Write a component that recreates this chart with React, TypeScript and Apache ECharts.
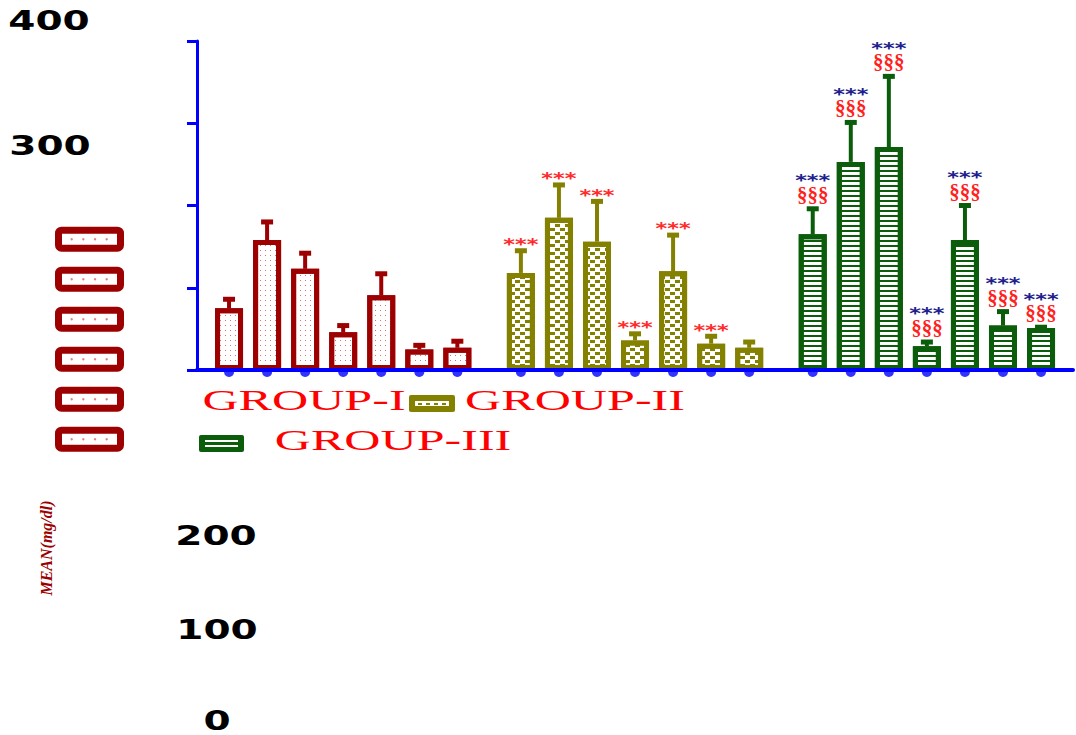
import React, { useEffect, useRef } from "react";
import * as echarts from "echarts";

// ---------- data ----------
const groupNames = ["GROUP-I", "GROUP-II", "GROUP-III"];
const groupIMean = [75, 158, 123, 46, 91, 25, 27];
const groupISD = [11, 22, 19, 8, 26, 5, 8];
const groupIIMean = [118, 185, 156, 36, 120, 32, 27];
const groupIISD = [27, 40, 49, 8, 44, 9, 7];
const groupIIIMean = [165, 253, 271, 29, 158, 54, 51];
const groupIIISD = [31, 48, 86, 5, 42, 17, 1];
const groupIStars = ["", "", "", "", "", "", ""];
const groupIIStars = ["***", "***", "***", "***", "***", "***", ""];
const groupIIIStars = ["***", "***", "***", "***", "***", "***", "***"];
const groupIIISections = ["§§§", "§§§", "§§§", "§§§", "§§§", "§§§", "§§§"];
const yTickLabels = ["400", "300", "200", "100", "0"];
const yTickValues = [400, 300, 200, 100, 0];
const yAxisTitle = "MEAN(mg/dl)";

// ---------- styles / layout ----------
const BLUE = "#0000ff";
const DARK_RED = "#9c0000";
const OLIVE = "#848000";
const GREEN = "#0b5c0b";
const GROUP_STRIDE = 7.67;

const groups = [
  {
    name: groupNames[0], mean: groupIMean, sd: groupISD, stars: groupIStars, sections: null as string[] | null,
    color: DARK_RED, starColor: "#ff2a2a",
    decal: { symbol: "rect", symbolSize: 1, rotation: 0, color: "#e07070", dashArrayX: [1, 4], dashArrayY: [1, 4] },
  },
  {
    name: groupNames[1], mean: groupIIMean, sd: groupIISD, stars: groupIIStars, sections: null as string[] | null,
    color: OLIVE, starColor: "#ff2a2a",
    decal: { symbol: "rect", symbolSize: 1, rotation: 0, color: OLIVE, dashArrayX: [[5, 5], [0, 5, 5, 0]], dashArrayY: [3, 1] },
  },
  {
    name: groupNames[2], mean: groupIIIMean, sd: groupIIISD, stars: groupIIIStars, sections: groupIIISections,
    color: GREEN, starColor: "#20208c",
    decal: { symbol: "rect", symbolSize: 1, rotation: 0, color: GREEN, dashArrayX: [1, 0], dashArrayY: [2, 3] },
  },
];

function buildOption() {
  const series: any[] = [];
  const dots: number[][] = [];
  groups.forEach((g, gi) => {
    const xs = g.mean.map((_, i) => gi * GROUP_STRIDE + i);
    xs.forEach((x) => dots.push([x, 0]));
    series.push({
      name: g.name,
      type: "bar",
      barWidth: 28,
      barGap: "-100%",
      silent: true,
      z: 2,
      itemStyle: { color: "#ffffff", borderColor: g.color, borderWidth: 5, decal: g.decal },
      data: xs.map((x, i) => [x, g.mean[i]]),
    });
    series.push({
      name: g.name + " error",
      type: "custom",
      silent: true,
      z: 3,
      data: xs.map((x, i) => [x, g.mean[i], g.mean[i] + g.sd[i]]),
      renderItem: (params: any, api: any) => {
        const i = params.dataIndex;
        const x = api.value(0);
        const p0 = api.coord([x, api.value(1)]);
        const p1 = api.coord([x, api.value(2)]);
        const children: any[] = [
          { type: "line", shape: { x1: p0[0], y1: p0[1], x2: p1[0], y2: p1[1] }, style: { stroke: g.color, lineWidth: 4 } },
          { type: "rect", shape: { x: p1[0] - 6, y: p1[1] - 2.5, width: 12, height: 5 }, style: { fill: g.color } },
        ];
        const star = g.stars[i];
        if (star) {
          const dy = g.sections ? 32 : 10;
          children.push({
            type: "text",
            x: p1[0],
            y: p1[1] - dy + 4,
            scaleX: 1.4,
            style: {
              text: star, fill: g.starColor, font: "bold 16px 'DejaVu Sans'",
              align: "center", verticalAlign: "middle", textAlign: "center", textVerticalAlign: "middle",
            },
          });
        }
        if (g.sections && g.sections[i]) {
          children.push({
            type: "text",
            x: p1[0],
            y: p1[1] - 14,
            style: {
              text: g.sections[i], fill: "#ff2020", font: "bold 21px 'Liberation Serif'",
              align: "center", verticalAlign: "middle", textAlign: "center", textVerticalAlign: "middle",
            },
          });
        }
        return { type: "group", children };
      },
    });
  });
  series.push({
    name: "baseline dots",
    type: "scatter",
    silent: true,
    z: 1,
    symbolSize: 10,
    symbolOffset: [0, 2],
    itemStyle: { color: BLUE, decal: "none" },
    data: dots,
  });

  const graphic: any[] = [];
  // y tick labels (displaced as in the reference)
  const tickPos: Record<number, [number, number]> = {
    400: [49, 21], 300: [50, 146], 200: [216, 536], 100: [217, 630], 0: [217, 721],
  };
  yTickValues.forEach((v, k) => {
    const [x, y] = tickPos[v];
    graphic.push({
      type: "text", x, y, scaleX: 1.5,
      style: {
        text: yTickLabels[k], fill: "#000", font: "bold 26px 'DejaVu Sans'", lineHeight: 20,
        textAlign: "center", textVerticalAlign: "middle", align: "center", verticalAlign: "middle",
      },
    });
  });
  // y axis title
  graphic.push({
    type: "text", x: 46, y: 548, rotation: Math.PI / 2,
    style: {
      text: yAxisTitle, fill: DARK_RED, font: "italic bold 16px 'Liberation Serif'",
      textAlign: "center", textVerticalAlign: "middle", align: "center", verticalAlign: "middle",
    },
  });
  // dark red legend markers column
  for (let k = 0; k < 6; k++) {
    const y = 230.2 + 40 * k;
    graphic.push({ type: "rect", shape: { x: 58.5, y, width: 62, height: 18, r: 3 }, style: { fill: "#fff", stroke: DARK_RED, lineWidth: 7 } });
    [71.7, 83.3, 95, 106.7].forEach((cx) =>
      graphic.push({ type: "circle", shape: { cx, cy: y + 9, r: 1.2 }, style: { fill: "#e08080" } })
    );
  }
  // olive marker
  graphic.push({ type: "rect", shape: { x: 409, y: 395, width: 46, height: 17, r: 2 }, style: { fill: OLIVE } });
  graphic.push({ type: "rect", shape: { x: 415, y: 401, width: 34, height: 5 }, style: { fill: "#fff" } });
  [418, 426, 434, 442].forEach((x) =>
    graphic.push({ type: "rect", shape: { x, y: 403, width: 4, height: 2 }, style: { fill: OLIVE } })
  );
  // green marker
  graphic.push({ type: "rect", shape: { x: 199, y: 435, width: 45, height: 17, r: 2 }, style: { fill: GREEN } });
  graphic.push({ type: "rect", shape: { x: 205, y: 440, width: 33, height: 2 }, style: { fill: "#fff" } });
  graphic.push({ type: "rect", shape: { x: 205, y: 445, width: 33, height: 2 }, style: { fill: "#fff" } });
  // legend texts
  const legendPos: [number, number][] = [[304, 400], [575, 400], [393, 440]];
  groupNames.forEach((n, k) => {
    graphic.push({
      type: "text", x: legendPos[k][0], y: legendPos[k][1], scaleX: 1.67,
      style: {
        text: n, fill: "#ff0000", font: "30px 'Liberation Serif'",
        textAlign: "center", textVerticalAlign: "middle", align: "center", verticalAlign: "middle",
      },
    });
  });

  return {
    animation: false,
    aria: { enabled: true, decal: { show: true } },
    grid: { left: 197, right: 3, top: 41, bottom: 365 },
    xAxis: {
      type: "value", min: -0.842, max: 22.18, z: 5,
      axisLine: { show: true, onZero: false, lineStyle: { color: BLUE, width: 4 } },
      axisTick: { show: false }, axisLabel: { show: false }, splitLine: { show: false },
    },
    yAxis: {
      type: "value", min: 0, max: 400, interval: 100, z: 5,
      axisLine: { show: true, onZero: false, lineStyle: { color: BLUE, width: 3 } },
      axisTick: { show: true, length: 10, lineStyle: { color: BLUE, width: 3 } },
      axisLabel: { show: false }, splitLine: { show: false },
    },
    series,
    graphic,
  };
}

export default function App() {
  const ref = useRef<HTMLDivElement>(null);
  useEffect(() => {
    document.body.style.margin = "0";
    const chart = echarts.init(ref.current!, null, { renderer: "svg" });
    chart.setOption(buildOption() as any);
    return () => chart.dispose();
  }, []);
  return <div ref={ref} style={{ width: 1076, height: 735 }} />;
}
